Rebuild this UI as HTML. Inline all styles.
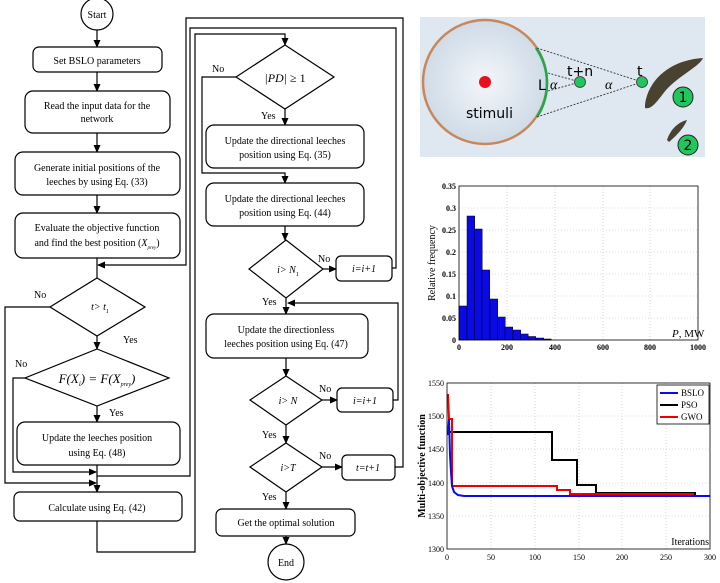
<!DOCTYPE html>
<html><head><meta charset="utf-8"><style>
html,body{margin:0;padding:0;background:#fff;}
svg{display:block;}
text{font-family:"Liberation Serif",serif;fill:#000;}
text.s{font-family:"DejaVu Sans","Liberation Sans",sans-serif;}
</style></head><body>
<svg width="720" height="583" viewBox="0 0 720 583" xmlns="http://www.w3.org/2000/svg">
<defs>
<marker id="a" markerWidth="8" markerHeight="8" refX="7" refY="4" orient="auto" markerUnits="userSpaceOnUse"><path d="M0,0.5 L8,4 L0,7.5Z" fill="#000"/></marker>
<radialGradient id="rg" cx="0.5" cy="0.5" r="0.5"><stop offset="0" stop-color="#f3f6fa"/><stop offset="0.6" stop-color="#dde6ef"/><stop offset="1" stop-color="#cfdbe7"/></radialGradient>
</defs>
<g stroke="#000" stroke-width="1.2" fill="none">
<circle cx="97" cy="14" r="16" fill="#fff"/>
<line x1="97" y1="30" x2="97" y2="47" marker-end="url(#a)"/>
<rect x="33" y="47" width="129" height="25" rx="6" fill="#fff"/>
<line x1="97" y1="72" x2="97" y2="91" marker-end="url(#a)"/>
<rect x="25" y="91" width="145" height="42" rx="8" fill="#fff"/>
<line x1="97" y1="133" x2="97" y2="152" marker-end="url(#a)"/>
<rect x="15" y="152" width="165" height="43" rx="8" fill="#fff"/>
<line x1="97" y1="195" x2="97" y2="213" marker-end="url(#a)"/>
<rect x="15" y="213" width="165" height="45" rx="8" fill="#fff"/>
<line x1="97" y1="258" x2="97" y2="278"/>
<polygon points="97,278 145,307 97,336 50,307" fill="#fff"/>
<line x1="97" y1="336" x2="97" y2="349" marker-end="url(#a)"/>
<polygon points="97,349 169,378 97,406 25,378" fill="#fff"/>
<line x1="97" y1="406" x2="97" y2="422" marker-end="url(#a)"/>
<rect x="17" y="422" width="163" height="43" rx="8" fill="#fff"/>
<line x1="97" y1="465" x2="97" y2="492" marker-end="url(#a)"/>
<polyline points="50,307 5,307 5,483 96,483" marker-end="url(#a)"/>
<polyline points="25,378 13,378 13,472 96,472" marker-end="url(#a)"/>
<rect x="14" y="492" width="168" height="29" rx="6" fill="#fff"/>
<polyline points="97,521 97,552 195,552 195,34 285,34 285,45" marker-end="url(#a)"/>
<polyline points="97,476 190,476 190,28 396,28 396,268 392,268"/>
<polyline points="395,467 403,467 403,18 186,18 186,265 98,265" marker-end="url(#a)"/>
<polygon points="285,45 334,77 285,109 236,77" fill="#fff"/>
<polyline points="236,77 202,77 202,173 285,173 285,183" marker-end="url(#a)"/>
<line x1="285" y1="109" x2="285" y2="125" marker-end="url(#a)"/>
<rect x="206" y="125" width="158" height="43" rx="8" fill="#fff"/>
<rect x="206" y="183" width="158" height="43" rx="8" fill="#fff"/>
<line x1="285" y1="226" x2="285" y2="240" marker-end="url(#a)"/>
<polygon points="286,240 323,269 286,298 249,269" fill="#fff"/>
<line x1="323" y1="269" x2="336" y2="269" marker-end="url(#a)"/>
<rect x="336" y="256" width="56" height="25" rx="5" fill="#fff"/>
<line x1="286" y1="298" x2="286" y2="314" marker-end="url(#a)"/>
<polyline points="393,400 398,400 398,303 288,303" marker-end="url(#a)"/>
<rect x="206" y="314" width="162" height="44" rx="8" fill="#fff"/>
<line x1="286" y1="358" x2="286" y2="376" marker-end="url(#a)"/>
<polygon points="286,376 322,400 286,425 250,400" fill="#fff"/>
<line x1="322" y1="400" x2="337" y2="400" marker-end="url(#a)"/>
<rect x="337" y="388" width="56" height="24" rx="5" fill="#fff"/>
<line x1="286" y1="425" x2="286" y2="443" marker-end="url(#a)"/>
<polygon points="286,443 322,467 286,492 250,467" fill="#fff"/>
<line x1="322" y1="467" x2="342" y2="467" marker-end="url(#a)"/>
<rect x="342" y="455" width="53" height="25" rx="5" fill="#fff"/>
<line x1="286" y1="492" x2="286" y2="509" marker-end="url(#a)"/>
<rect x="216" y="509" width="139" height="27" rx="6" fill="#fff"/>
<line x1="286" y1="536" x2="286" y2="544" marker-end="url(#a)"/>
<circle cx="286" cy="562" r="18" fill="#fff"/>
</g>
<g font-size="10" text-anchor="middle">
<text x="97" y="18">Start</text>
<text x="97" y="64">Set BSLO parameters</text>
<text x="97" y="109">Read the input data for the</text>
<text x="97" y="122">network</text>
<text x="97" y="171">Generate initial positions of the</text>
<text x="97" y="185">leeches by using Eq. (33)</text>
<text x="97" y="231">Evaluate the objective function</text>
<text x="97" y="246">and find the best position (<tspan font-style="italic">X</tspan><tspan font-size="5" dy="3" font-style="italic">prey</tspan><tspan dy="-3">)</tspan></text>
<text x="100" y="310" font-style="italic">t&gt; t<tspan font-size="6" dy="3">1</tspan></text>
<text x="97" y="383" font-size="13" font-style="italic">F(X<tspan font-size="7" dy="3">i</tspan><tspan dy="-3">) = F(X</tspan><tspan font-size="6" dy="3">prey</tspan><tspan dy="-3">)</tspan></text>
<text x="97" y="441">Update the leeches position</text>
<text x="97" y="456">using Eq. (48)</text>
<text x="97" y="511">Calculate using Eq. (42)</text>
<text x="285" y="82" font-size="12"><tspan font-style="italic">|PD|</tspan> ≥ 1</text>
<text x="285" y="144">Update the directional leeches</text>
<text x="285" y="158">position using Eq. (35)</text>
<text x="285" y="202">Update the directional leeches</text>
<text x="285" y="216">position using Eq. (44)</text>
<text x="288" y="273" font-style="italic">i&gt; N<tspan font-size="6" dy="3">1</tspan></text>
<text x="364" y="272" font-style="italic">i=i+1</text>
<text x="286" y="333">Update the directionless</text>
<text x="286" y="347">leeches position using Eq. (47)</text>
<text x="288" y="404" font-style="italic">i&gt; N</text>
<text x="365" y="404" font-style="italic">i=i+1</text>
<text x="288" y="471" font-style="italic">i&gt;T</text>
<text x="368" y="471" font-style="italic">t=t+1</text>
<text x="286" y="526">Get the optimal solution</text>
<text x="286" y="566">End</text>
</g>
<g font-size="10">
<text x="123" y="343">Yes</text>
<text x="34" y="298">No</text>
<text x="15" y="367">No</text>
<text x="109" y="416">Yes</text>
<text x="212" y="72">No</text>
<text x="261" y="119">Yes</text>
<text x="318" y="262">No</text>
<text x="262" y="305">Yes</text>
<text x="319" y="392">No</text>
<text x="262" y="438">Yes</text>
<text x="319" y="459">No</text>
<text x="262" y="500">Yes</text>
</g>
<rect x="420" y="17" width="285" height="140" fill="#dfe8f1"/>
<circle cx="485" cy="82" r="62" fill="url(#rg)" stroke="#c8875a" stroke-width="2.5"/>
<path d="M536,48 A62,62 0 0,1 537,117" stroke="#1faa4a" stroke-width="2.5" fill="none"/>
<g stroke="#333" stroke-width="0.9" stroke-dasharray="2,1.5" fill="none">
<line x1="537" y1="48" x2="642" y2="82"/><line x1="537" y1="117" x2="642" y2="82"/>
<line x1="548" y1="73" x2="580" y2="82"/><line x1="548" y1="91" x2="580" y2="82"/>
</g>
<circle cx="485" cy="82" r="6" fill="#e8101a"/>
<circle cx="580" cy="82" r="5.5" fill="#22c55e" stroke="#333" stroke-width="0.8"/>
<circle cx="642" cy="82" r="5.5" fill="#22c55e" stroke="#333" stroke-width="0.8"/>
<path d="M645,105 C648,80 670,60 703,58 C700,66 680,75 666,90 C658,100 652,110 645,108Z" fill="#4a4230"/>
<path d="M667,140 C670,130 678,122 687,120 C684,128 676,136 669,142Z" fill="#4a4230"/>
<circle cx="683" cy="97" r="10" fill="#22c55e" stroke="#222"/>
<circle cx="688" cy="145" r="10" fill="#22c55e" stroke="#222"/>
<g font-size="14">
<text class="s" x="683" y="102" text-anchor="middle">1</text>
<text class="s" x="688" y="150" text-anchor="middle">2</text>
<text class="s" x="466" y="118">stimuli</text>
<text class="s" x="538" y="90">L</text>
<text class="s" x="567" y="76">t+n</text>
<text class="s" x="637" y="76">t</text>
</g>
<text x="550" y="89" font-size="14" font-style="italic">α</text>
<text x="605" y="89" font-size="14" font-style="italic">α</text>
<g stroke="#bbb" stroke-width="0.6" stroke-dasharray="1,2">
<line x1="507" y1="186" x2="507" y2="340"/><line x1="555" y1="186" x2="555" y2="340"/><line x1="603" y1="186" x2="603" y2="340"/><line x1="650" y1="186" x2="650" y2="340"/>
<line x1="459" y1="208" x2="698" y2="208"/><line x1="459" y1="230" x2="698" y2="230"/><line x1="459" y1="252" x2="698" y2="252"/><line x1="459" y1="274" x2="698" y2="274"/><line x1="459" y1="296" x2="698" y2="296"/><line x1="459" y1="318" x2="698" y2="318"/>
</g>
<g fill="#0a0ae6" stroke="#000" stroke-width="0.5">
<rect x="459" y="306" width="8" height="34"/>
<rect x="467" y="216" width="7.7" height="124"/>
<rect x="474.5" y="229" width="7.7" height="111"/>
<rect x="482" y="270" width="7.7" height="70"/>
<rect x="490" y="299" width="7.7" height="41"/>
<rect x="497.5" y="317" width="7.7" height="23"/>
<rect x="505" y="327" width="7.7" height="13"/>
<rect x="513" y="330" width="7.7" height="10"/>
<rect x="520.5" y="334" width="7.7" height="6"/>
<rect x="528" y="336.5" width="7.7" height="3.5"/>
<rect x="536" y="338" width="7.7" height="2"/>
<rect x="543.5" y="339" width="7.7" height="1"/>
</g>
<rect x="459" y="186" width="239" height="154" fill="none" stroke="#000" stroke-width="0.8"/>
<g font-size="8" font-weight="bold" text-anchor="end">
<text x="456" y="189">0.35</text><text x="456" y="211">0.3</text><text x="456" y="233">0.25</text><text x="456" y="255">0.2</text><text x="456" y="277">0.15</text><text x="456" y="299">0.1</text><text x="456" y="321">0.05</text><text x="456" y="343">0</text>
</g>
<g font-size="8" font-weight="bold" text-anchor="middle">
<text x="459" y="350">0</text><text x="507" y="350">200</text><text x="555" y="350">400</text><text x="603" y="350">600</text><text x="650" y="350">800</text><text x="698" y="350">1000</text>
</g>
<text x="672" y="337" font-size="11"><tspan font-style="italic">P</tspan>, MW</text>
<text transform="translate(435,263) rotate(-90)" font-size="10" text-anchor="middle">Relative frequency</text>
<g stroke="#bbb" stroke-width="0.6" stroke-dasharray="1,2">
<line x1="491" y1="383" x2="491" y2="549"/><line x1="535" y1="383" x2="535" y2="549"/><line x1="579" y1="383" x2="579" y2="549"/><line x1="622" y1="383" x2="622" y2="549"/><line x1="666" y1="383" x2="666" y2="549"/>
<line x1="447" y1="416" x2="710" y2="416"/><line x1="447" y1="449" x2="710" y2="449"/><line x1="447" y1="483" x2="710" y2="483"/><line x1="447" y1="516" x2="710" y2="516"/>
</g>
<polyline fill="none" stroke="#000" stroke-width="2" points="447,432 552,432 552,460 577,460 577,485 596,485 596,493 695,493 695,496 710,496"/>
<polyline fill="none" stroke="#e00" stroke-width="2" points="447,395 448,395 449,419 452,419 452,486 557,486 557,490 570,490 570,494 693,494 693,496 710,496"/>
<polyline fill="none" stroke="#0a0aee" stroke-width="2" points="448,435 449,419 450,455 451,472 452,486 454,492 458,495 464,496 710,496"/>
<rect x="447" y="383" width="263" height="166" fill="none" stroke="#000" stroke-width="0.8"/>
<rect x="657" y="385" width="52" height="39" fill="#fff" stroke="#000" stroke-width="0.8"/>
<line x1="660" y1="393" x2="678" y2="393" stroke="#0a0aee" stroke-width="2"/>
<line x1="660" y1="405" x2="678" y2="405" stroke="#000" stroke-width="2"/>
<line x1="660" y1="417" x2="678" y2="417" stroke="#e00" stroke-width="2"/>
<g font-size="9"><text x="681" y="396">BSLO</text><text x="681" y="408">PSO</text><text x="681" y="420">GWO</text></g>
<g font-size="8" text-anchor="end">
<text x="444" y="386">1550</text><text x="444" y="419">1500</text><text x="444" y="452">1450</text><text x="444" y="486">1400</text><text x="444" y="519">1350</text><text x="444" y="552">1300</text>
</g>
<g font-size="8" text-anchor="middle">
<text x="447" y="560">0</text><text x="491" y="560">50</text><text x="535" y="560">100</text><text x="579" y="560">150</text><text x="622" y="560">200</text><text x="666" y="560">250</text><text x="710" y="560">300</text>
</g>
<text x="709" y="545" font-size="10" text-anchor="end">Iterations</text>
<text transform="translate(425,466) rotate(-90)" font-size="10" font-weight="bold" text-anchor="middle">Multi-objective function</text>
</svg>
</body></html>
